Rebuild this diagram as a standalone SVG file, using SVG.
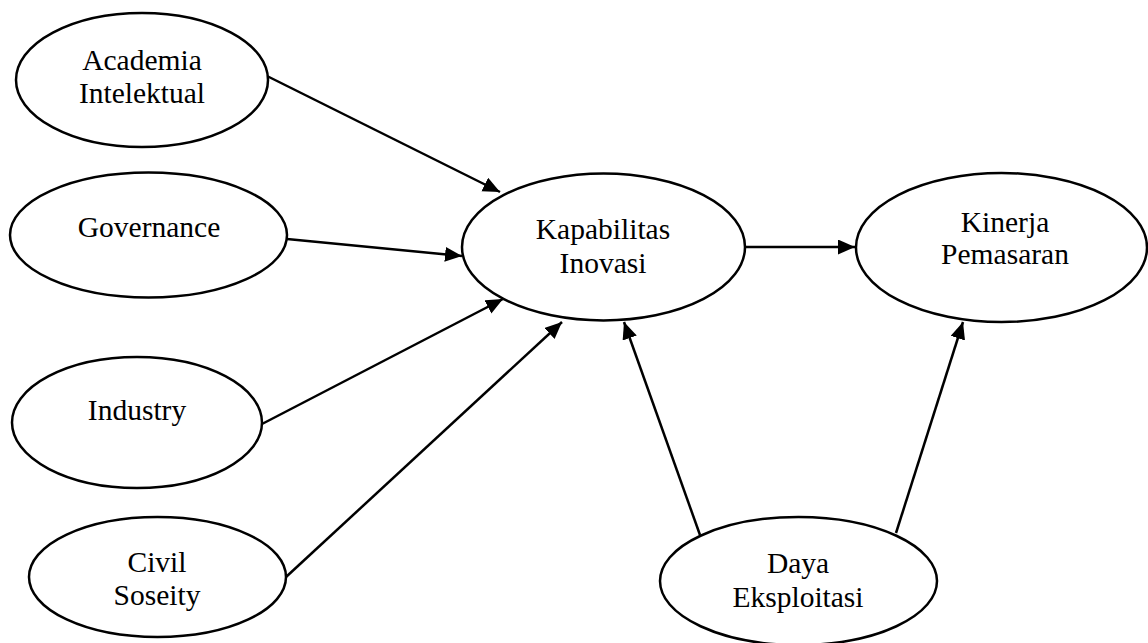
<svg xmlns="http://www.w3.org/2000/svg" width="1148" height="643" viewBox="0 0 1148 643">
<style>
.node ellipse{fill:#fff;stroke:#000;stroke-width:2.5}
.node text{font-family:"Liberation Serif","Times New Roman",serif;font-size:29.5px;fill:#000;text-anchor:middle}
.edges line{stroke:#000;stroke-width:2.5}
</style>
<defs>
<marker id="arr" markerUnits="userSpaceOnUse" markerWidth="18" markerHeight="16" refX="17" refY="7.5" orient="auto">
<path d="M0,0 L17,7.5 L0,15 z" fill="#000"/>
</marker>
</defs>
<rect width="1148" height="643" fill="#fff"/>
<g class="edges">
<line x1="267" y1="76" x2="500" y2="192" marker-end="url(#arr)"/>
<line x1="287" y1="239" x2="462" y2="256" marker-end="url(#arr)"/>
<line x1="262" y1="424" x2="503" y2="299" marker-end="url(#arr)"/>
<line x1="286" y1="577" x2="562" y2="322" marker-end="url(#arr)"/>
<line x1="700" y1="535" x2="624" y2="322" marker-end="url(#arr)"/>
<line x1="896" y1="533" x2="963" y2="322" marker-end="url(#arr)"/>
<line x1="745" y1="247" x2="855" y2="247" marker-end="url(#arr)"/>
</g>
<g id="academia" class="node">
<ellipse cx="142" cy="80" rx="126" ry="67"/>
<text x="142" y="70">Academia</text>
<text x="142" y="103">Intelektual</text>
</g>
<g id="governance" class="node">
<ellipse cx="148.5" cy="235" rx="138.5" ry="62.5"/>
<text x="149" y="237">Governance</text>
</g>
<g id="industry" class="node">
<ellipse cx="137" cy="422.5" rx="125" ry="65.5"/>
<text x="137" y="420">Industry</text>
</g>
<g id="civil" class="node">
<ellipse cx="157.5" cy="577" rx="128.5" ry="60"/>
<text x="157" y="572">Civil</text>
<text x="157" y="605">Soseity</text>
</g>
<g id="kapabilitas" class="node">
<ellipse cx="603.5" cy="247" rx="141.5" ry="73.5"/>
<text x="603" y="239">Kapabilitas</text>
<text x="603" y="273">Inovasi</text>
</g>
<g id="kinerja" class="node">
<ellipse cx="1001.5" cy="247.5" rx="145.5" ry="74.5"/>
<text x="1005" y="232">Kinerja</text>
<text x="1005" y="264">Pemasaran</text>
</g>
<g id="daya" class="node">
<ellipse cx="798.5" cy="581" rx="138.5" ry="64"/>
<text x="798" y="573">Daya</text>
<text x="798" y="607">Eksploitasi</text>
</g>
</svg>
